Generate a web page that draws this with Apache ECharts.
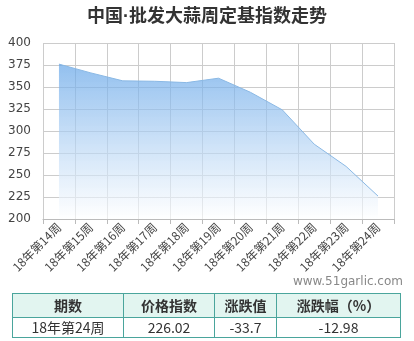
<!DOCTYPE html>
<html><head><meta charset="utf-8">
<script src="https://cdn.jsdelivr.net/npm/echarts@6/dist/echarts.min.js"></script>
<style>
html,body{margin:0;padding:0;background:#fff;}
#c{position:absolute;left:0;top:0;width:414px;height:341px;}
#t{position:absolute;left:12px;top:293px;width:389px;border-collapse:collapse;font-family:"Noto Sans CJK SC",sans-serif;font-size:14px;color:#333;text-align:center;}
#t td{border:1.5px solid #4aa59c;padding:0;height:19px;line-height:19px;}
#t tr.h td{background:#e2f5f0;font-weight:bold;height:23px;line-height:23px;}
</style></head>
<body>
<div id="c"></div>
<table id="t">
<tr class="h"><td style="width:110px">期数</td><td style="width:90px">价格指数</td><td style="width:61px">涨跌值</td><td>涨跌幅（%）</td></tr>
<tr><td id="p"></td><td id="v"></td><td id="d"></td><td id="r"></td></tr>
</table>
<script>
const categories = ["18年第14周","18年第15周","18年第16周","18年第17周","18年第18周","18年第19周","18年第20周","18年第21周","18年第22周","18年第23周","18年第24周"];
const indexValues = [376, 366, 357, 356.5, 355, 360, 344, 324, 285, 259.72, 226.02];
const tableRow = ["18年第24周", "226.02", "-33.7", "-12.98"];

document.getElementById('p').textContent = tableRow[0];
document.getElementById('v').textContent = tableRow[1];
document.getElementById('d').textContent = tableRow[2];
document.getElementById('r').textContent = tableRow[3];

const chart = echarts.init(document.getElementById('c'));
chart.setOption({
  animation:false,
  title:{text:'中国·批发大蒜周定基指数走势',left:'center',top:3,
    textStyle:{fontSize:18,fontWeight:'bold',color:'#333',fontFamily:'"Liberation Sans","Noto Sans CJK SC",sans-serif'}},
  graphic:[{type:'text',right:11,top:276,style:{text:'www.51garlic.com',fill:'#888',font:'12px "DejaVu Sans", sans-serif'}}],
  grid:{left:43,right:20,top:43,bottom:122},
  xAxis:{type:'category',data:categories,boundaryGap:true,
    axisLine:{lineStyle:{color:'#bbb'}},
    axisTick:{show:true,length:5,lineStyle:{color:'#bbb'}},
    axisLabel:{rotate:45,fontSize:12,color:'#444',margin:6,fontFamily:'"Noto Sans CJK SC",sans-serif'},
    splitLine:{show:true,lineStyle:{color:'#ccc'}}},
  yAxis:{type:'value',min:200,max:400,interval:25,
    axisLine:{show:false},axisTick:{show:false},
    axisLabel:{fontSize:12,color:'#444',margin:12,fontFamily:'"DejaVu Sans",sans-serif'},
    splitLine:{show:true,lineStyle:{color:'#ccc'}}},
  series:[{type:'line',data:indexValues,showSymbol:false,
    lineStyle:{color:'#8ab8e4',width:1},
    areaStyle:{color:new echarts.graphic.LinearGradient(0,0,0,1,[
      {offset:0,color:'rgba(100,165,232,1)'},{offset:1,color:'rgba(255,255,255,0.9)'}]),origin:'start'}}]
});
</script>
</body></html>
